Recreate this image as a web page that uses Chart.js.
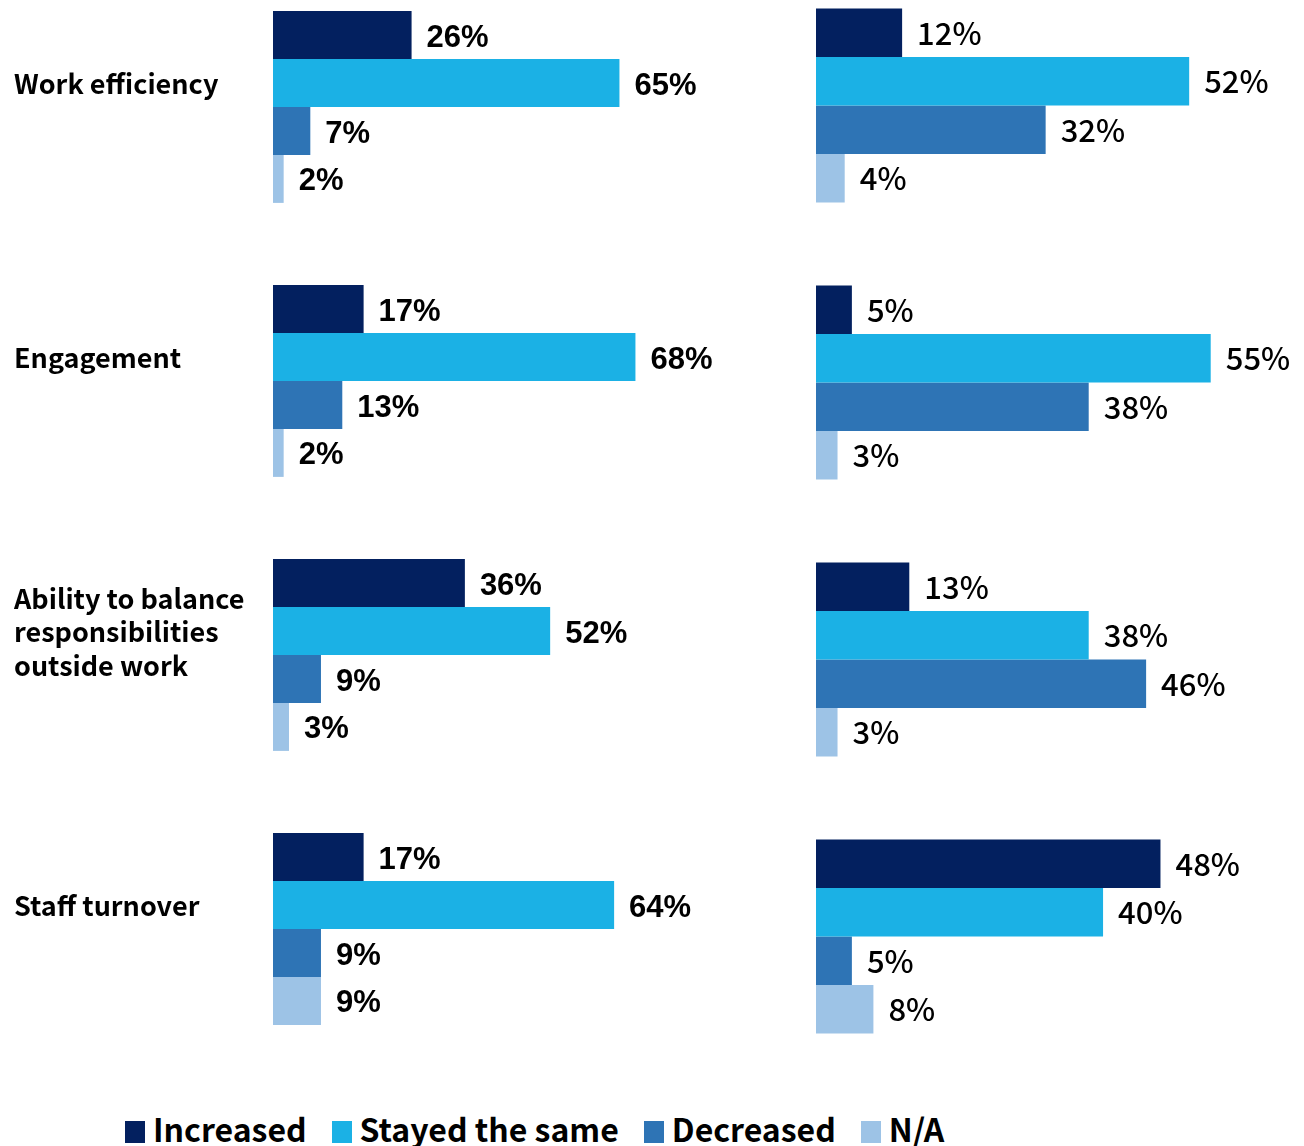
<!DOCTYPE html>
<html>
<head>
<meta charset="utf-8">
<script src="https://cdn.jsdelivr.net/npm/chart.js@4.4.1/dist/chart.umd.min.js"></script>
<style>
  html, body { margin: 0; padding: 0; background: #fff; width: 1304px; height: 1146px; overflow: hidden; position: relative; }
  #leftWrap { position: absolute; left: 0; top: -30px; width: 806px; height: 1096px; }
  #rightWrap { position: absolute; left: 816px; top: -33px; width: 488px; height: 1108px; }
  #legend { position: absolute; left: 125px; top: 1110px; display: flex; align-items: center;
            font-family: "Noto Sans CJK JP", "Noto Sans", sans-serif; font-weight: bold; font-size: 32px; line-height: 36px; color: #000; white-space: nowrap; }
  .item { display: flex; align-items: center; margin-right: 25px; }
  .sw { width: 20px; height: 22px; margin-right: 8px; margin-top: 8px; }
</style>
</head>
<body>
<div id="leftWrap"><canvas id="left"></canvas></div>
<div id="rightWrap"><canvas id="right"></canvas></div>
<div id="legend"></div>
<script>
const categories = ["Work efficiency", "Engagement", ["Ability to balance", "responsibilities", "outside work"], "Staff turnover"];
const seriesNames = ["Increased", "Stayed the same", "Decreased", "N/A"];
const seriesColors = ["#03205F", "#1BB1E5", "#2E74B5", "#9DC3E6"];

const leftIncreased = [26, 17, 36, 17];
const leftStayed    = [65, 68, 52, 64];
const leftDecreased = [7, 13, 9, 9];
const leftNA        = [2, 2, 3, 9];

const rightIncreased = [12, 5, 13, 48];
const rightStayed    = [52, 55, 38, 40];
const rightDecreased = [32, 38, 46, 5];
const rightNA        = [4, 3, 3, 8];

const leftSeries = [leftIncreased, leftStayed, leftDecreased, leftNA];
const rightSeries = [rightIncreased, rightStayed, rightDecreased, rightNA];

function makeDatasets(series) {
  return series.map((vals, i) => ({
    label: seriesNames[i],
    data: vals,
    backgroundColor: seriesColors[i],
    borderWidth: 0,
    barPercentage: 1.0,
    categoryPercentage: 0.70
  }));
}

function labelPlugin(font, dy) {
  return {
    id: 'valueLabels',
    afterDatasetsDraw(chart) {
      const ctx = chart.ctx;
      ctx.save();
      ctx.font = font;
      ctx.fillStyle = '#000';
      ctx.textAlign = 'left';
      ctx.textBaseline = 'middle';
      chart.data.datasets.forEach((ds, di) => {
        chart.getDatasetMeta(di).data.forEach((bar, i) => {
          ctx.fillText(ds.data[i] + '%', bar.x + 15, bar.y + dy);
        });
      });
      ctx.restore();
    }
  };
}

new Chart(document.getElementById('left'), {
  type: 'bar',
  data: { labels: categories, datasets: makeDatasets(leftSeries) },
  options: {
    indexAxis: 'y',
    responsive: true,
    maintainAspectRatio: false,
    animation: false,
    layout: { padding: { left: 14, right: 0, top: 0, bottom: 0 } },
    plugins: { legend: { display: false }, tooltip: { enabled: false } },
    scales: {
      x: { display: false, min: 0, max: 100 },
      y: {
        grid: { display: false, drawTicks: false },
        border: { display: false },
        afterFit(scale) { scale.width = 259; scale.paddingTop = 0; scale.paddingBottom = 0; },
        ticks: {
          crossAlign: 'far',
          labelOffset: -23,
          color: '#000',
          font: { family: '"Noto Sans CJK JP", "Noto Sans", sans-serif', size: 27, weight: 'bold', lineHeight: 1.25 }
        }
      }
    }
  },
  plugins: [labelPlugin('bold 31px "Liberation Sans", Arial, sans-serif', 3)]
});

new Chart(document.getElementById('right'), {
  type: 'bar',
  data: { labels: categories, datasets: makeDatasets(rightSeries) },
  options: {
    indexAxis: 'y',
    responsive: true,
    maintainAspectRatio: false,
    animation: false,
    layout: { padding: 0 },
    plugins: { legend: { display: false }, tooltip: { enabled: false } },
    scales: {
      x: { display: false, min: 0, max: 68 },
      y: { display: false }
    }
  },
  plugins: [labelPlugin('500 31px "Noto Sans CJK JP", "Noto Sans", sans-serif', 0)]
});

const legend = document.getElementById('legend');
seriesNames.forEach((n, i) => {
  const it = document.createElement('div');
  it.className = 'item';
  const sw = document.createElement('div');
  sw.className = 'sw';
  sw.style.background = seriesColors[i];
  const tx = document.createElement('span');
  tx.textContent = n;
  it.appendChild(sw); it.appendChild(tx);
  legend.appendChild(it);
});
</script>
</body>
</html>
